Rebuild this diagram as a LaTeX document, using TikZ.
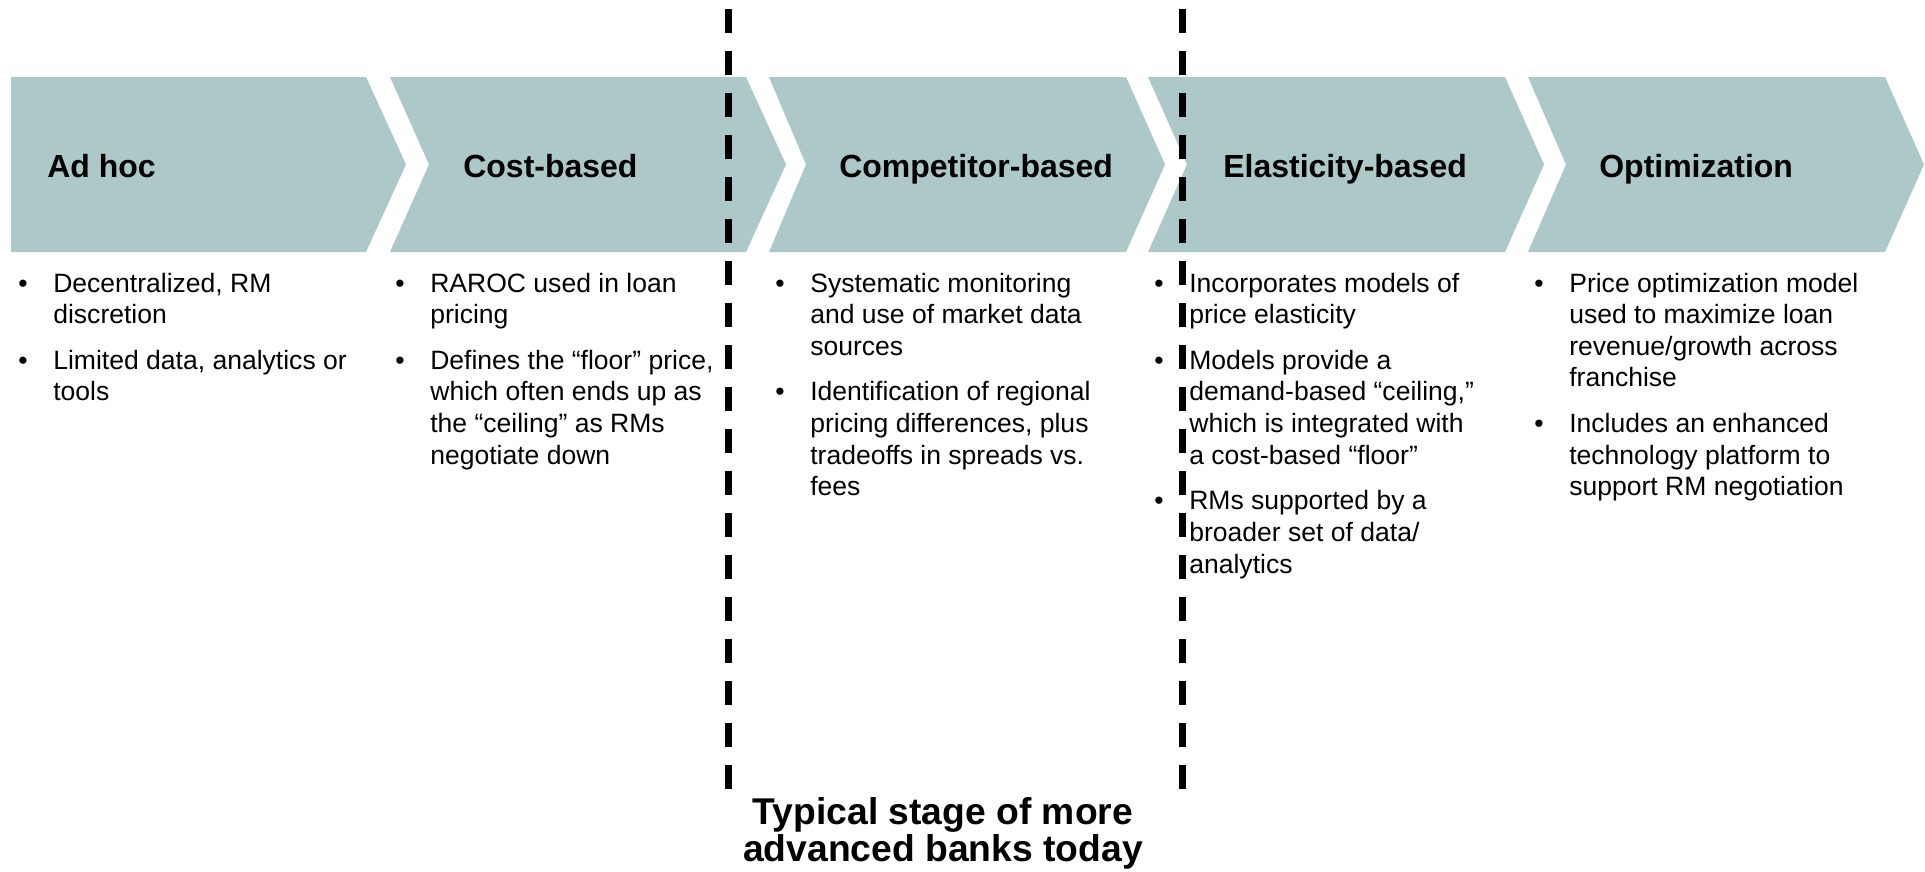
\documentclass[tikz,border=0pt]{standalone}
\usepackage{fontspec}
\setmainfont{Liberation Sans}
\usepackage{xcolor}
\usepackage{tikz}
\definecolor{stagefill}{HTML}{ACC8C9}

\begin{document}
\begin{tikzpicture}[
  x=0.02cm, y=-0.02cm,
  stage/.style={fill=stagefill, draw=none},
  title/.style={anchor=base west, inner sep=0pt, font=\fontsize{18.2}{21}\selectfont\bfseries},
  notes/.style={anchor=base west, inner sep=0pt, font=\fontsize{15.1}{18}\selectfont},
  banner/.style={anchor=base, inner sep=0pt, align=center, font=\fontsize{21.2}{19.9}\selectfont\bfseries},
  divider/.style={line width=0.14cm, dash pattern=on 0.48cm off 0.36cm}
]
  \useasboundingbox (0,0) rectangle (1925,872);
  \fill[white] (0,0) rectangle (1925,872);

  \path[stage] (11,77) -- (366,77) -- (406,164.5) -- (366,252) -- (11,252) -- cycle;
  \path[stage] (390,77) -- (746,77) -- (786,164.5) -- (746,252) -- (390,252) -- (429,164.5) -- cycle;
  \path[stage] (769,77) -- (1126,77) -- (1165,164.5) -- (1126,252) -- (769,252) -- (806,164.5) -- cycle;
  \path[stage] (1148,77) -- (1505,77) -- (1544,164.5) -- (1505,252) -- (1148,252) -- (1187,164.5) -- cycle;
  \path[stage] (1528,77) -- (1885,77) -- (1924,164.5) -- (1885,252) -- (1528,252) -- (1566,164.5) -- cycle;

  \node[title] (adhoc) at (47,177) {Ad hoc};
  \node[title] (cost) at (463,177) {Cost-based};
  \node[title] (comp) at (839,177) {Competitor-based};
  \node[title] (elast) at (1223,177) {Elasticity-based};
  \node[title] (optim) at (1599,177) {Optimization};

  \node[notes] (adhocnotes) at (18,292) {\begin{tabular}[t]{@{}p{0.7cm}@{}l@{}}
    \textbullet & Decentralized, RM\\
    & discretion\\[8pt]
    \textbullet & Limited data, analytics or\\
    & tools
  \end{tabular}};
  \node[notes] (costnotes) at (395,292) {\begin{tabular}[t]{@{}p{0.7cm}@{}l@{}}
    \textbullet & RAROC used in loan\\
    & pricing\\[8pt]
    \textbullet & Defines the “floor” price,\\
    & which often ends up as\\
    & the “ceiling” as RMs\\
    & negotiate down
  \end{tabular}};
  \node[notes] (compnotes) at (775,292) {\begin{tabular}[t]{@{}p{0.7cm}@{}l@{}}
    \textbullet & Systematic monitoring\\
    & and use of market data\\
    & sources\\[8pt]
    \textbullet & Identification of regional\\
    & pricing differences, plus\\
    & tradeoffs in spreads vs.\\
    & fees
  \end{tabular}};
  \node[notes] (elastnotes) at (1154,292) {\begin{tabular}[t]{@{}p{0.7cm}@{}l@{}}
    \textbullet & Incorporates models of\\
    & price elasticity\\[8pt]
    \textbullet & Models provide a\\
    & demand-based “ceiling,”\\
    & which is integrated with\\
    & a cost-based “floor”\\[8pt]
    \textbullet & RMs supported by a\\
    & broader set of data/\\
    & analytics
  \end{tabular}};
  \node[notes] (optimnotes) at (1534,292) {\begin{tabular}[t]{@{}p{0.7cm}@{}l@{}}
    \textbullet & Price optimization model\\
    & used to maximize loan\\
    & revenue/growth across\\
    & franchise\\[8pt]
    \textbullet & Includes an enhanced\\
    & technology platform to\\
    & support RM negotiation
  \end{tabular}};

  \coordinate (leftdivtop) at (728,9);
  \coordinate (leftdivbot) at (728,789);
  \coordinate (rightdivtop) at (1182,9);
  \coordinate (rightdivbot) at (1182,789);
  \draw[divider] (leftdivtop) -- (leftdivbot);
  \draw[divider] (rightdivtop) -- (rightdivbot);

  \node[banner] (today) at (943,861.5) {Typical stage of more\\[1.4pt]advanced banks today};
\end{tikzpicture}
\end{document}
